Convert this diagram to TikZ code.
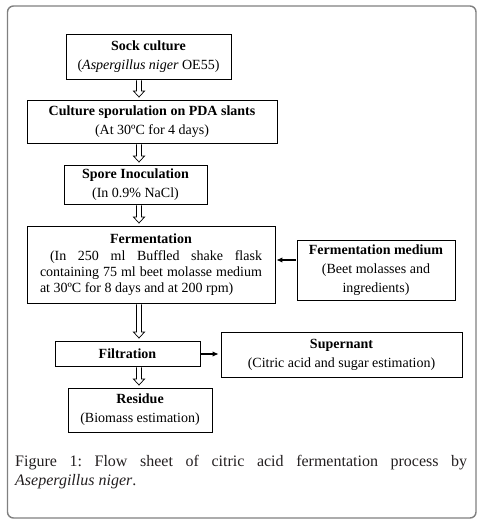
\documentclass[tikz,border=0pt]{standalone}
\usepackage{fontspec}
\setmainfont{Liberation Serif}
\usetikzlibrary{calc,arrows.meta}
\definecolor{framegray}{HTML}{808080}
\definecolor{captxt}{HTML}{231F20}
\newcommand\hollowdown[2]{%
  \draw[hollowarr] let \p1=($(ax |- #1.south)+(0,1)$), \p2=($(ax |- #2.north)+(0,-2.5)$) in
    (\x1-2.5pt,\y1) -- (\x1-2.5pt,\y2+6pt) -- (\x1-5.5pt,\y2+6pt) -- (\x1,\y2)
    -- (\x1+5.5pt,\y2+6pt) -- (\x1+2.5pt,\y2+6pt) -- (\x1+2.5pt,\y1);}
\begin{document}
\begin{tikzpicture}[x=1pt,y=-1pt,
  box/.style={draw,line width=0.9pt,rectangle,inner sep=0pt,align=center,
    font=\fontsize{14}{19}\selectfont},
  hollowarr/.style={line width=0.7pt,fill=white},
  solidarr/.style={line width=1.1pt,-{Latex[length=6pt,width=5.5pt]}},
  captext/.style={anchor=base west,inner sep=0pt,text=captxt,font=\fontsize{16}{19}\selectfont\frenchspacing}]
\useasboundingbox (0,0) rectangle (482,524);
\draw[framegray,line width=1.4pt,rounded corners=6pt] (7.5,6) rectangle (476,518);
\coordinate (ax) at (139,0);

\node[box,minimum width=165,minimum height=45] (sock) at (148.5,56.5)
  {\textbf{Sock culture}\\(\textit{Aspergillus niger} OE55)};
\node[box,minimum width=250,minimum height=43] (spor) at (152,121.5)
  {\textbf{Culture sporulation on PDA slants}\\(At 30ºC for 4 days)};
\node[box,minimum width=143,minimum height=39] (spore) at (135.5,184.5)
  {\textbf{Spore Inoculation}\\(In 0.9\% NaCl)};
\node[box,minimum width=248,minimum height=77,align=left] (ferm) at (151,264.5)
  {\makebox[222pt]{\textbf{Fermentation}}\\[-2pt]
   \hspace*{10pt}\makebox[212pt][s]{(In 250 ml Buffled shake flask}\\[-3pt]
   \makebox[222pt][s]{containing 75 ml beet molasse medium}\\[-3pt]
   at 30ºC for 8 days and at 200 rpm)};
\node[box,minimum width=158,minimum height=60] (medium) at (376,270)
  {\textbf{Fermentation medium}\\(Beet molasses and\\ingredients)};
\node[box,minimum width=145,minimum height=25] (filt) at (127.5,353.5)
  {\textbf{Filtration}};
\node[box,minimum width=241,minimum height=45] (super) at (341.5,354.5)
  {\textbf{Supernant}\\(Citric acid and sugar estimation)};
\node[box,minimum width=144,minimum height=44] (res) at (140,410)
  {\textbf{Residue}\\(Biomass estimation)};

\hollowdown{sock}{spor}
\hollowdown{spor}{spore}
\hollowdown{spore}{ferm}
\hollowdown{ferm}{filt}
\hollowdown{filt}{res}

\coordinate (ay) at (0,260);
\coordinate (by) at (0,354);
\draw[solidarr] ($(medium.west |- ay)+(-1,0)$) -- ($(ferm.east |- ay)+(1,0)$);
\draw[solidarr] ($(filt.east |- by)+(1,0)$) -- ($(super.west |- by)+(-2,0)$);

\node[captext] (cap1) at (15,466)
  {\makebox[452pt][s]{Figure 1: Flow sheet of citric acid fermentation process by}};
\node[captext] (cap2) at (15,485) {\textit{Asepergillus niger}.};
\end{tikzpicture}
\end{document}
